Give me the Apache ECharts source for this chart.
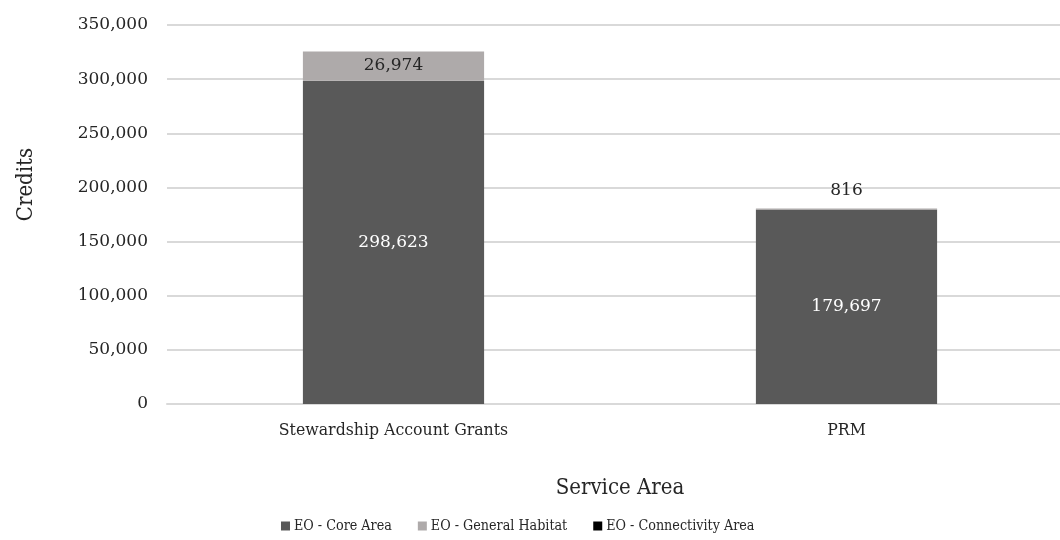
<!DOCTYPE html>
<html>
<head>
<meta charset="utf-8">
<script src="https://cdn.jsdelivr.net/npm/echarts@6/dist/echarts.min.js"></script>
<style>
  html, body { margin: 0; padding: 0; background: #fff; }
  #chart { width: 1060px; height: 540px; }
</style>
</head>
<body>
<div id="chart"></div>
<script>
// Service areas and credits per habitat type
const categories = ['Stewardship Account Grants', 'PRM'];
const coreArea = [298623, 179697];
const generalHabitat = [26974, 816];
const connectivityArea = [0, 0];
const yTicks = { min: 0, max: 350000, interval: 50000 };

const TEXT_FONT = '"DejaVu Serif Condensed", "DejaVu Serif", "Liberation Serif", serif';
const NUM_FONT = '"DejaVu Serif", "Liberation Serif", serif';
const INK = '#262626';
const fmt = v => v.toLocaleString('en-US');

const chart = echarts.init(document.getElementById('chart'), null, { renderer: 'canvas' });

chart.setOption({
  backgroundColor: '#ffffff',
  animation: false,
  textStyle: { fontFamily: TEXT_FONT },
  grid: { left: 167, top: 25, width: 906, bottom: 136, outerBoundsMode: 'none', containLabel: false },
  legend: {
    top: 519,
    left: 281,
    padding: 0,
    itemWidth: 9,
    itemHeight: 9,
    itemGap: 26,
    icon: 'rect',
    textStyle: { fontFamily: TEXT_FONT, fontSize: 14.2, color: INK, padding: [0, 0, 0, -1] },
    data: ['EO - Core Area', 'EO - General Habitat', 'EO - Connectivity Area']
  },
  xAxis: {
    type: 'category',
    data: categories,
    name: 'Service Area',
    nameLocation: 'middle',
    nameGap: 73,
    nameTextStyle: { fontFamily: TEXT_FONT, fontSize: 22, color: INK },
    axisLine: { lineStyle: { color: '#d9d9d9', width: 2 } },
    axisTick: { show: false },
    axisLabel: { fontFamily: TEXT_FONT, fontSize: 17.5, color: INK, margin: 17 }
  },
  yAxis: {
    type: 'value',
    min: yTicks.min,
    max: yTicks.max,
    interval: yTicks.interval,
    name: 'Credits',
    nameLocation: 'middle',
    nameGap: 130,
    nameRotate: 90,
    nameTextStyle: { fontFamily: TEXT_FONT, fontSize: 22, color: INK, padding: [0, 0, 0, 60] },
    axisLine: { show: false },
    axisTick: { show: false },
    splitLine: { lineStyle: { color: '#d9d9d9', width: 2 } },
    axisLabel: { fontFamily: NUM_FONT, fontSize: 17, color: INK, margin: 19, formatter: fmt }
  },
  series: [
    {
      name: 'EO - Core Area',
      type: 'bar',
      stack: 'credits',
      barWidth: '40%',
      data: coreArea,
      itemStyle: { color: '#595959' },
      label: { show: true, position: 'inside', color: '#ffffff', fontFamily: NUM_FONT, fontSize: 17, formatter: p => fmt(p.value) }
    },
    {
      name: 'EO - General Habitat',
      type: 'bar',
      stack: 'credits',
      data: generalHabitat.map((v, i) => ({
        value: v,
        label: i === 1
          ? { show: true, position: 'top', distance: 9 }
          : { show: true, position: 'inside' }
      })),
      itemStyle: { color: '#aeaaaa' },
      label: { show: true, color: INK, fontFamily: NUM_FONT, fontSize: 17, formatter: p => fmt(p.value) }
    },
    {
      name: 'EO - Connectivity Area',
      type: 'bar',
      stack: 'credits',
      data: connectivityArea,
      itemStyle: { color: '#000000' }
    }
  ]
});
</script>
</body>
</html>
